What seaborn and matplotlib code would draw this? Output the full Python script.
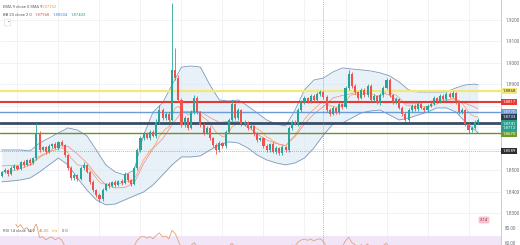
import numpy as np
import pandas as pd
import matplotlib
matplotlib.use("Agg")
import matplotlib.pyplot as plt
import seaborn as sns
from matplotlib.transforms import blended_transform_factory

# ---------------- data ----------------
closes = [
    1.8491, 1.8500, 1.8482, 1.8510, 1.8519, 1.8505, 1.8538, 1.8524, 1.8547, 1.8533,
    1.8556, 1.8673, 1.8593, 1.8607, 1.8584, 1.8612, 1.8621, 1.8603, 1.8631, 1.8617,
    1.8570, 1.8510, 1.8463, 1.8477, 1.8459, 1.8510, 1.8524, 1.8491, 1.8445, 1.8407,
    1.8384, 1.8366, 1.8407, 1.8435, 1.8426, 1.8445, 1.8431, 1.8449, 1.8440, 1.8482,
    1.8454, 1.8435, 1.8510, 1.8593, 1.8649, 1.8668, 1.8649, 1.8677, 1.8659, 1.8724,
    1.8779, 1.8742, 1.8761, 1.8733, 1.8966, 1.8928, 1.8826, 1.8710, 1.8742, 1.8696,
    1.8770, 1.8835, 1.8770, 1.8710, 1.8673, 1.8696, 1.8649, 1.8617, 1.8593, 1.8626,
    1.8612, 1.8677, 1.8733, 1.8807, 1.8742, 1.8779, 1.8714, 1.8724, 1.8696, 1.8705,
    1.8668, 1.8640, 1.8649, 1.8612, 1.8593, 1.8621, 1.8584, 1.8603, 1.8580, 1.8607,
    1.8593, 1.8696, 1.8724, 1.8714, 1.8779, 1.8817, 1.8835, 1.8821, 1.8845, 1.8826,
    1.8854, 1.8863, 1.8840, 1.8779, 1.8761, 1.8789, 1.8770, 1.8807, 1.8793, 1.8882,
    1.8947, 1.8891, 1.8863, 1.8835, 1.8873, 1.8849, 1.8891, 1.8826, 1.8845, 1.8812,
    1.8849, 1.8882, 1.8919, 1.8849, 1.8817, 1.8831, 1.8789, 1.8761, 1.8733, 1.8779,
    1.8798, 1.8784, 1.8807, 1.8789, 1.8779, 1.8798, 1.8807, 1.8835, 1.8821, 1.8845,
    1.8831, 1.8854, 1.8840, 1.8859, 1.8817, 1.8770, 1.8779, 1.8714, 1.8686, 1.8696,
    1.8724, 1.8733,
]
first_open = 1.8473

upper_wick_pips = [
    6, 8, 5, 7, 9, 4, 6, 8, 5, 7,
    6, 46, 9, 7, 5, 8, 6, 9, 5, 7,
    6, 5, 8, 7, 6, 9, 12, 5, 6, 8,
    5, 7, 9, 6, 8, 5, 7, 6, 8, 10,
    6, 5, 9, 8, 10, 7, 6, 9, 8, 12,
    24, 9, 7, 8, 311, 102, 12, 8, 10, 7,
    9, 14, 10, 6, 8, 9, 7, 6, 8, 9,
    6, 8, 10, 19, 7, 9, 6, 8, 5, 7,
    6, 8, 7, 5, 9, 6, 8, 7, 5, 9,
    6, 10, 8, 7, 9, 8, 10, 6, 9, 7,
    8, 9, 6, 7, 8, 9, 6, 8, 7, 10,
    19, 9, 7, 6, 10, 8, 9, 7, 8, 6,
    9, 8, 9, 10, 7, 8, 6, 7, 8, 9,
    7, 8, 9, 6, 7, 8, 9, 10, 7, 8,
    9, 7, 8, 10, 6, 8, 9, 7, 6, 8,
    9, 7,
]
lower_wick_pips = [
    7, 5, 8, 6, 9, 7, 5, 8, 6, 9,
    7, 8, 10, 6, 9, 7, 8, 6, 9, 7,
    8, 9, 10, 7, 12, 6, 8, 7, 9, 8,
    10, 14, 8, 6, 9, 7, 8, 6, 9, 7,
    8, 10, 6, 9, 7, 8, 6, 9, 7, 8,
    9, 10, 7, 8, 6, 9, 10, 12, 8, 9,
    7, 8, 9, 10, 8, 7, 9, 8, 18, 7,
    9, 8, 6, 7, 9, 8, 7, 9, 8, 6,
    9, 8, 7, 10, 8, 9, 7, 10, 12, 8,
    9, 7, 8, 6, 9, 7, 8, 9, 7, 8,
    7, 9, 8, 10, 8, 7, 9, 8, 7, 6,
    8, 9, 7, 8, 6, 9, 7, 8, 9, 7,
    8, 7, 6, 9, 8, 10, 7, 9, 9, 8,
    7, 9, 8, 7, 8, 9, 7, 6, 8, 7,
    9, 8, 7, 6, 9, 8, 10, 9, 12, 8,
    7, 9,
]

# Bollinger band (20, 2) read at every third bar
bb_index = list(range(0, 151, 3)) + [151]
bb_upper = [
    1.8593, 1.8593, 1.8593, 1.8589, 1.8626, 1.8649, 1.8673, 1.8696, 1.8686, 1.8659,
    1.8593, 1.8524, 1.8491, 1.8477, 1.8500, 1.8663, 1.8770, 1.8812, 1.8896, 1.8979,
    1.8984, 1.8979, 1.8896, 1.8826, 1.8821, 1.8826, 1.8798, 1.8766, 1.8733, 1.8714,
    1.8705, 1.8779, 1.8873, 1.8919, 1.8928, 1.8956, 1.8975, 1.8970, 1.8966, 1.8961,
    1.8952, 1.8938, 1.8910, 1.8873, 1.8863, 1.8863, 1.8863, 1.8863, 1.8882, 1.8896,
    1.8900, 1.8896,
]
bb_lower = [
    1.8445, 1.8449, 1.8454, 1.8463, 1.8491, 1.8524, 1.8556, 1.8524, 1.8463, 1.8407,
    1.8361, 1.8338, 1.8342, 1.8361, 1.8380, 1.8398, 1.8431, 1.8477, 1.8524, 1.8561,
    1.8561, 1.8566, 1.8593, 1.8617, 1.8631, 1.8626, 1.8603, 1.8570, 1.8547, 1.8533,
    1.8524, 1.8533, 1.8556, 1.8603, 1.8663, 1.8714, 1.8719, 1.8742, 1.8766, 1.8775,
    1.8779, 1.8756, 1.8733, 1.8742, 1.8756, 1.8770, 1.8789, 1.8789, 1.8770, 1.8724,
    1.8686, 1.8673,
]

level_prices = [1.8868, 1.8817, 1.8770, 1.8719, 1.8670]
price_grid = [1.83, 1.84, 1.85, 1.86, 1.87, 1.88, 1.89, 1.90, 1.91, 1.92]
price_tick_labels = ["1.8300", "1.8400", "1.8500", "", "", "", "1.8900", "1.9000", "1.9100", "1.9200"]
crosshair_index = 102
crosshair_price = 1.8589
rsi_ticks = [60, 80]
rsi_tick_labels = ["60.00", "80.00"]

# ---------------- styling ----------------
sns.set_theme(style="white")
plt.rcParams["font.family"] = ["Roboto", "DejaVu Sans"]

UP = "#26a69a"
DOWN = "#ef5350"
level_colors = ["#f3e775", "#e53935", "#6b9bd9", "#3b4d63", "#6f8f2a"]
level_widths = [1.6, 1.5, 1.0, 2.0, 1.0]

W, H = 520, 245
fig = plt.figure(figsize=(W / 100, H / 100), dpi=100)
fig.patch.set_facecolor("white")
plot_right = 501
main_bottom = 224
ax = fig.add_axes([0, (H - main_bottom) / H, plot_right / W, main_bottom / H])
rax = fig.add_axes([0, 0, plot_right / W, (H - main_bottom) / H])

df = pd.DataFrame({"close": closes})
df["idx"] = np.arange(len(df))
df["open"] = df["close"].shift(1).fillna(first_open)
df["high"] = df[["open", "close"]].max(axis=1) + np.array(upper_wick_pips) / 1e4
df["low"] = df[["open", "close"]].min(axis=1) - np.array(lower_wick_pips) / 1e4
df["ema"] = df["close"].ewm(span=9, adjust=False).mean()
delta = df["close"].diff()
gain = delta.clip(lower=0).ewm(alpha=1 / 14, adjust=False).mean()
loss = (-delta.clip(upper=0)).ewm(alpha=1 / 14, adjust=False).mean()
df["rsi"] = 100 - 100 / (1 + gain / loss.replace(0, np.nan))

bb = pd.DataFrame({"idx": bb_index, "upper": bb_upper, "lower": bb_lower})
bb["basis"] = (bb["upper"] + bb["lower"]) / 2

xmin, xmax = -0.54, 158.3
ymin, ymax = 1.8249, 1.9291

# grid
grid_idx = list(range(5, 158, 13))
for a in (ax, rax):
    a.set_xlim(xmin, xmax)
    a.set_xticks(grid_idx)
    a.set_xticklabels([])
    a.tick_params(axis="x", length=0)
    for x in grid_idx:
        a.axvline(x, color="#eef0f4", lw=0.6, zorder=0)

ax.set_ylim(ymin, ymax)
for p in price_grid:
    ax.axhline(p, color="#eef0f4", lw=0.6, zorder=0)

# Bollinger band
ax.fill_between(bb["idx"], bb["lower"], bb["upper"], color="#dce9f5", alpha=0.65, lw=0, zorder=1)
sns.lineplot(data=bb, x="idx", y="upper", ax=ax, color="#7f9aba", lw=0.6, zorder=2)
sns.lineplot(data=bb, x="idx", y="lower", ax=ax, color="#7f9aba", lw=0.6, zorder=2)
sns.lineplot(data=bb, x="idx", y="basis", ax=ax, color="#f08a80", lw=0.5, zorder=2)
sns.lineplot(data=df, x="idx", y="ema", ax=ax, color="#f5a05a", lw=0.5, zorder=2)

# levels
for p, c, w in zip(level_prices, level_colors, level_widths):
    ax.axhline(p, color=c, lw=w, zorder=3)

# candles
is_up = df["close"] >= df["open"]
cols = np.where(is_up, UP, DOWN)
ax.vlines(df["idx"], df["low"], df["high"], colors=cols, lw=0.6, zorder=4)
body = (df["close"] - df["open"]).abs().clip(lower=0.0002)
ax.bar(df["idx"], body, bottom=df[["open", "close"]].min(axis=1), width=0.66,
       color=cols, lw=0, zorder=5)

# crosshair
ax.axhline(crosshair_price, color="#8a8e99", lw=0.5, ls=(0, (1.2, 1.6)), zorder=6)
ax.axvline(crosshair_index, color="#8a8e99", lw=0.5, ls=(0, (1.2, 1.6)), zorder=6)
rax.axvline(crosshair_index, color="#8a8e99", lw=0.5, ls=(0, (1.2, 1.6)), zorder=6)

# axes cosmetics
ax.set_yticks(price_grid)
ax.set_yticklabels(price_tick_labels)
ax.yaxis.tick_right()
ax.tick_params(axis="y", length=0, labelsize=3.3, labelcolor="#6a6d78", pad=3)
ax.set_xlabel("")
ax.set_ylabel("")
for s in ("top", "left"):
    ax.spines[s].set_visible(False)
ax.spines["right"].set_color("#c9ccd3")
ax.spines["right"].set_linewidth(0.7)
ax.spines["bottom"].set_color("#e2e4ea")
ax.spines["bottom"].set_linewidth(0.6)

# right colored labels
tr = blended_transform_factory(ax.transAxes, ax.transData)
right_labels = [
    (1.8868, "1.8868", "#f3e775", "#333333"),
    (1.8817, "1.8817", "#e53935", "white"),
    (1.8770, "1.8770", "#6b9bd9", "white"),
    (1.8747, "1.8733", "#2f3f52", "white"),
    (1.8706, "1.8741\n1.8712", "#26a08c", "white"),
    (1.8668, "1.8670", "#6f9a2a", "white"),
    (1.8589, "1.8589", "#2b2d33", "white"),
]
for p, t, fc, tc in right_labels:
    ax.text(1.003, p, t, transform=tr, fontsize=3.2, color=tc, ha="left", va="center",
            linespacing=1.05, clip_on=False, zorder=10,
            bbox=dict(boxstyle="square,pad=0.28", fc=fc, ec="none"))

# RSI pane
rax.axhspan(30, 70, color="#f1e5f8", lw=0, zorder=0)
sns.lineplot(data=df.dropna(subset=["rsi"]), x="idx", y="rsi", ax=rax, color="#e2a27a", lw=0.6, zorder=3)
rax.set_ylim(57, 86)
rax.set_yticks(rsi_ticks)
rax.set_yticklabels(rsi_tick_labels)
rax.yaxis.tick_right()
rax.tick_params(axis="y", length=0, labelsize=3.3, labelcolor="#6a6d78", pad=3)
rax.set_xlabel("")
rax.set_ylabel("")
for s in ("top", "left", "bottom"):
    rax.spines[s].set_visible(False)
rax.spines["right"].set_color("#c9ccd3")
rax.spines["right"].set_linewidth(0.7)

# legend texts (top-left)
def ftext(x, y, s, size=3.0, **kw):
    fig.text(x / W, 1 - y / H, s, va="center", ha="left", fontsize=size, **kw)

ftext(3, 7, "EMA 9 close 0 SMA 9", color="#555a66")
ftext(42, 7, "1.87252", color="#f0a040")
ftext(3, 15, "BB 20 close 2 0", color="#555a66")
ftext(35, 15, "1.87968", color="#e05050")
ftext(53, 15, "1.88504", color="#4a8fd0")
ftext(71, 15, "1.87432", color="#26a08c")
fig.text(7.5 / W, 1 - 22.5 / H, "⌃", fontsize=3.0, color="#555a66", ha="center", va="center",
         bbox=dict(boxstyle="round,pad=0.35", fc="white", ec="#d6d8de", lw=0.4))
ftext(3, 231, "RSI 14 close 14 2", color="#555a66")
ftext(39, 231, "46.55", color="#e07a40")
ftext(52, 231, "n/a", color="#f0b030")
ftext(62, 231, "0 0", color="#555a66")

# small pink badge
fig.text(484 / W, 1 - 220 / H, "2:14", fontsize=3.0, color="#a03050", ha="center", va="center",
         bbox=dict(boxstyle="round,pad=0.35", fc="#f6c3cf", ec="none"))

fig.savefig("out.png", dpi=100, facecolor="white")
